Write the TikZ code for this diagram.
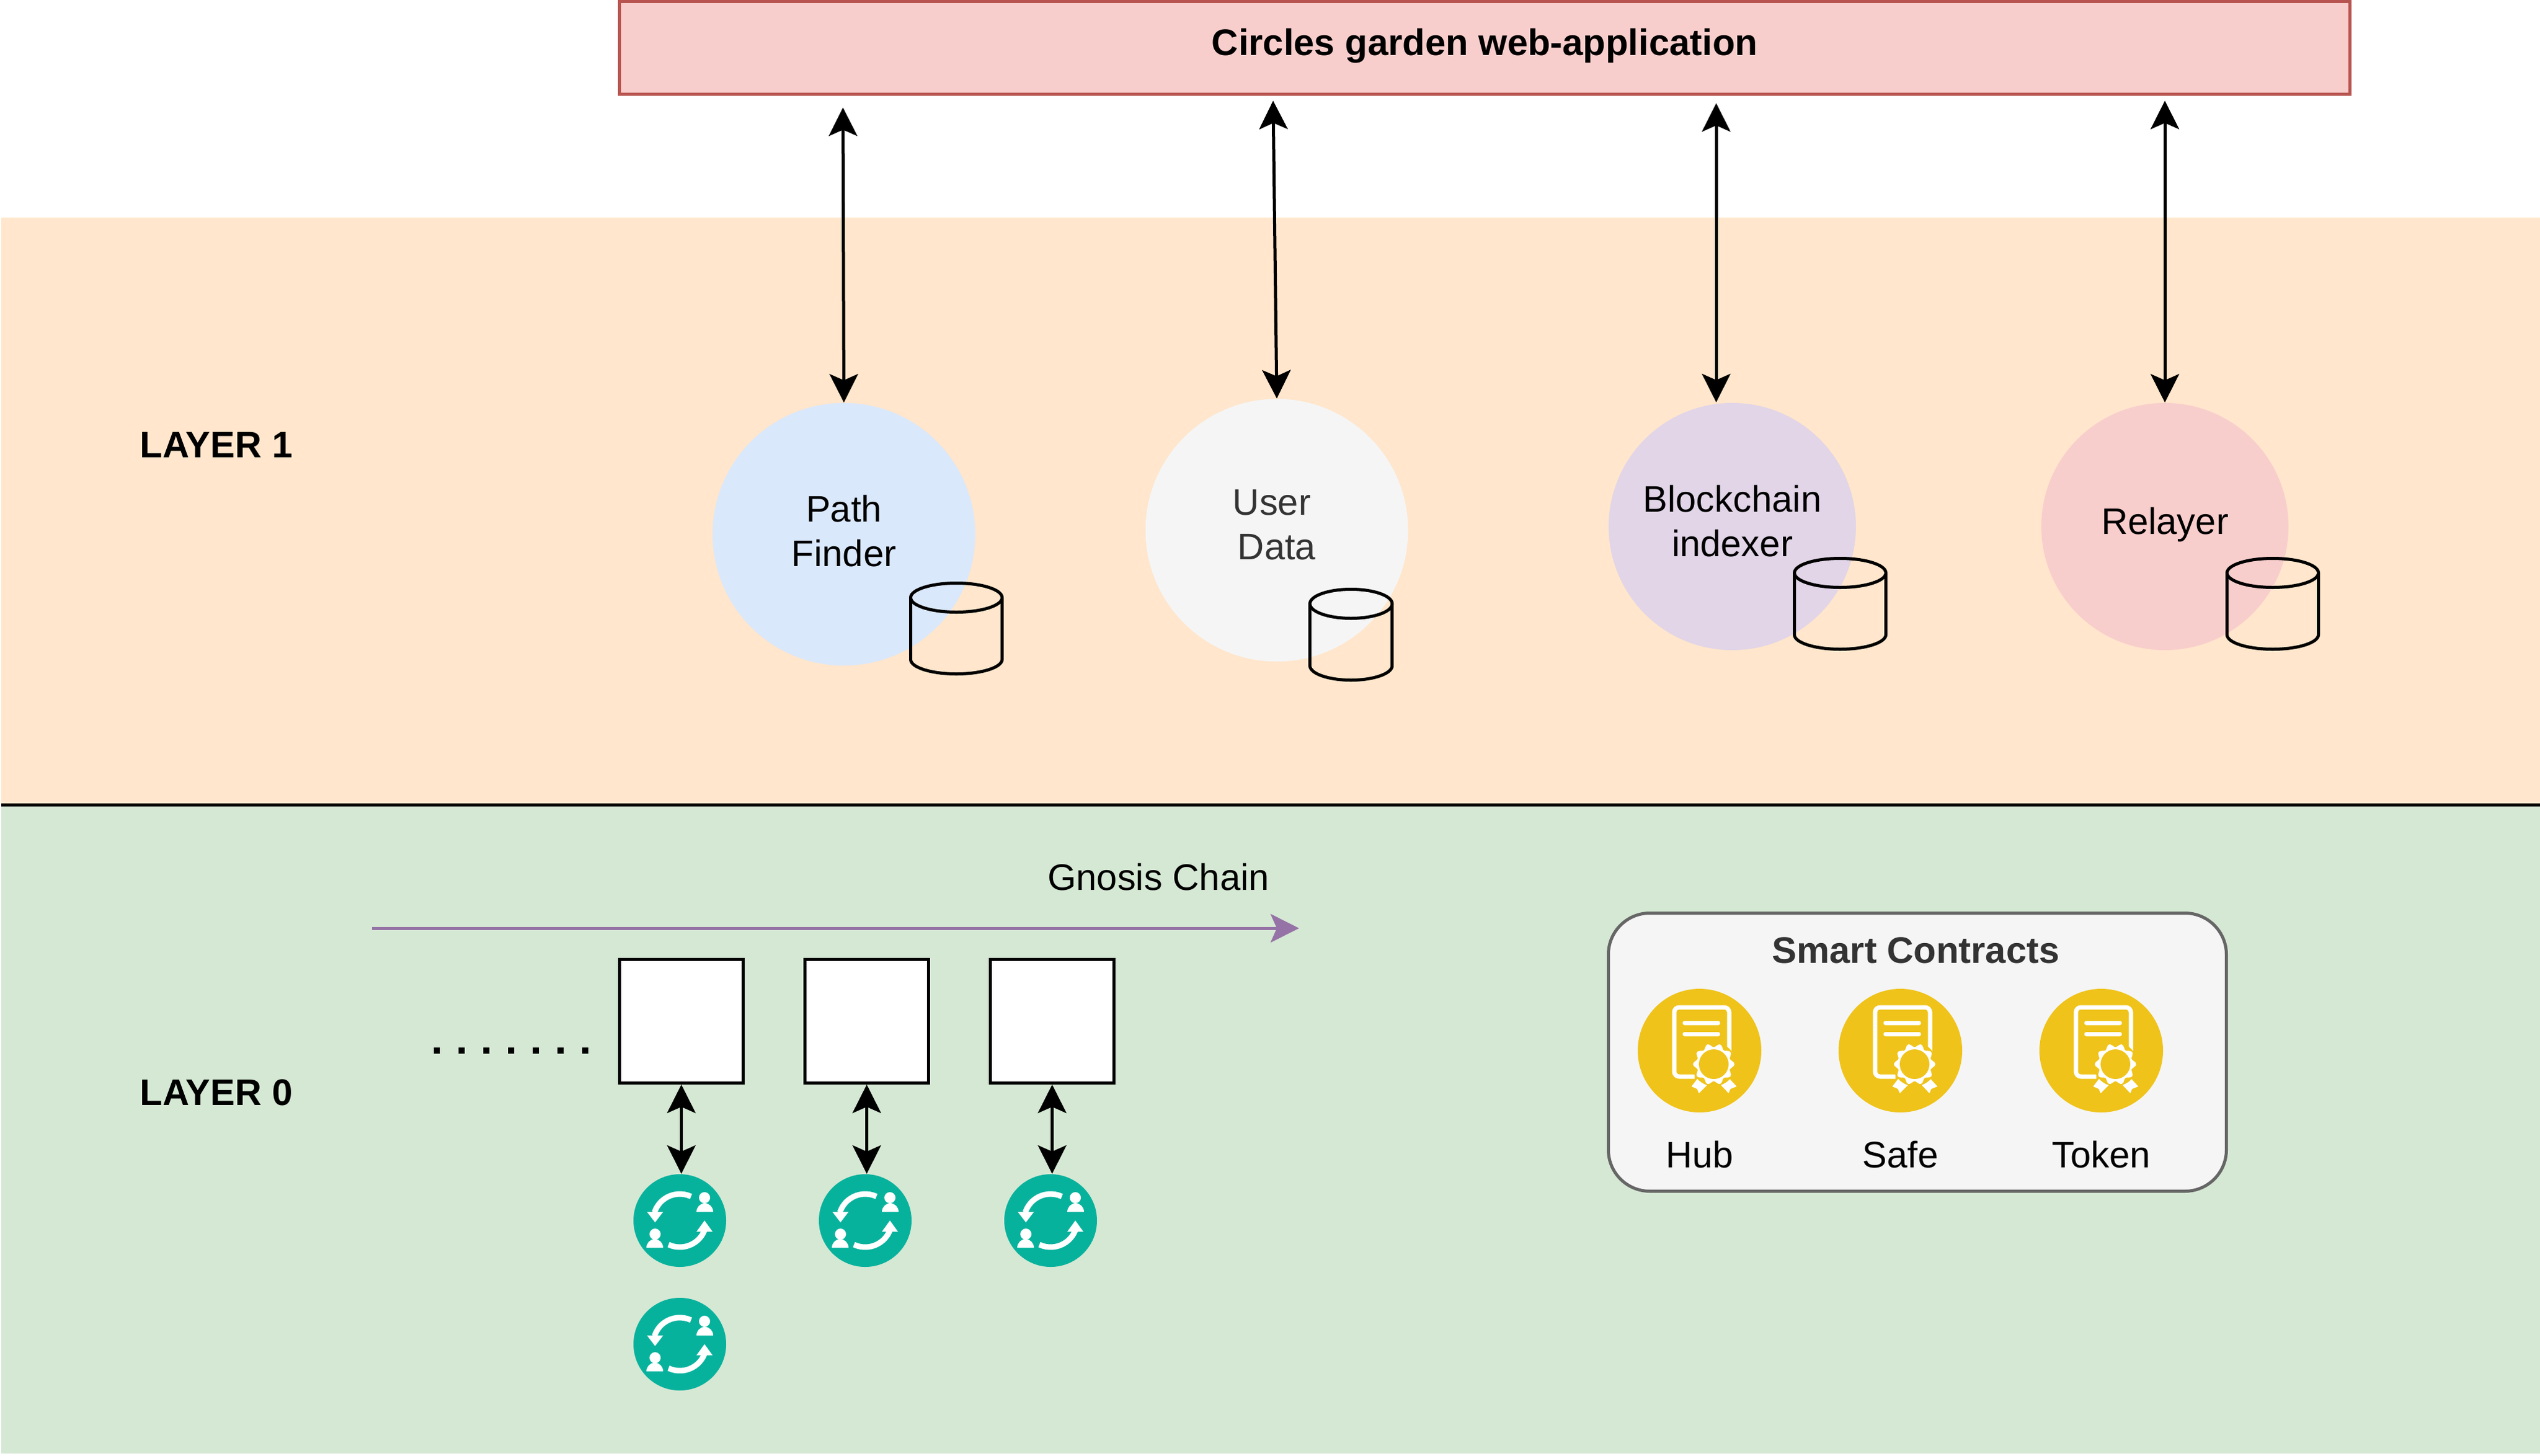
\documentclass[tikz,border=0pt]{standalone}
\usepackage{fontspec}
\setmainfont{Liberation Sans}
\usetikzlibrary{arrows.meta}

\definecolor{bandorange}{HTML}{FFE6CC}
\definecolor{bandgreen}{HTML}{D5E8D4}
\definecolor{appred}{HTML}{F8CECC}
\definecolor{appline}{HTML}{B85450}
\definecolor{pathblue}{HTML}{DAE8FC}
\definecolor{usergrey}{HTML}{F5F5F5}
\definecolor{indexlilac}{HTML}{E1D5E7}
\definecolor{chainpurple}{HTML}{9673A6}
\definecolor{boxline}{HTML}{666666}
\definecolor{greytext}{HTML}{333333}
\definecolor{valteal}{HTML}{07B29D}
\definecolor{certgold}{HTML}{EFC31A}

\tikzset{
  every node/.style={font=\fontsize{17}{20.5}\selectfont},
  lbl/.style={anchor=base, align=center, inner sep=0pt},
  blbl/.style={lbl, font=\fontsize{17}{20.5}\selectfont\bfseries},
  service/.style={circle, inner sep=0pt, minimum size=#1, align=center},
  block/.style={draw, fill=white, line width=0.05cm, minimum size=2cm, inner sep=0pt},
  round/.style={circle, inner sep=0pt, minimum size=#1},
  dblarrow/.style={line width=0.05cm, {Stealth[length=0.46cm,width=0.46cm,inset=0.1cm]}-{Stealth[length=0.46cm,width=0.46cm,inset=0.1cm]}},
  chainarrow/.style={draw=chainpurple, line width=0.05cm, -{Stealth[length=0.46cm,width=0.46cm,inset=0.1cm]}},
  % database drum, origin is the top left corner
  dbcyl/.pic={
    \draw[line width=0.05cm] (0,-0.235) arc[start angle=180, end angle=0, x radius=0.74, y radius=0.235]
      -- (1.48,-1.235) arc[start angle=0, end angle=-180, x radius=0.74, y radius=0.235] -- cycle;
    \draw[line width=0.05cm] (0,-0.235) arc[start angle=180, end angle=360, x radius=0.74, y radius=0.235];
  },
  % validators swapping seats
  swapicon/.pic={
    \draw[white, line width=0.09cm] (65:0.43) arc[start angle=65, end angle=162, radius=0.43];
    \fill[white] (-0.53,0.14) -- (-0.27,0.14) -- (-0.40,-0.03) -- cycle;
    \draw[white, line width=0.09cm] (245:0.43) arc[start angle=245, end angle=340, radius=0.43];
    \fill[white] (0.27,-0.18) -- (0.53,-0.18) -- (0.40,0) -- cycle;
    \fill[white] (0.40,0.37) circle (0.09);
    \fill[white] (0.27,0.14) arc[start angle=180, end angle=0, x radius=0.135, y radius=0.14] -- cycle;
    \fill[white] (-0.40,-0.22) circle (0.09);
    \fill[white] (-0.54,-0.44) arc[start angle=180, end angle=0, x radius=0.135, y radius=0.14] -- cycle;
  },
  % contract with a seal
  certicon/.pic={
    \draw[white, line width=0.07cm, rounded corners=0.08cm] (0.48,-0.07) -- (0.48,0.70) -- (-0.41,0.70) -- (-0.41,-0.42) -- (-0.08,-0.42);
    \draw[white, line width=0.07cm, line cap=round] (-0.24,0.45) -- (0.30,0.45);
    \draw[white, line width=0.07cm, line cap=round] (-0.24,0.27) -- (0.30,0.27);
    \fill[white] (-0.13,-0.58) -- (-0.03,-0.45) -- (0.15,-0.53) -- (-0.01,-0.69) -- (-0.04,-0.62) -- cycle;
    \fill[white] (0.60,-0.58) -- (0.48,-0.45) -- (0.32,-0.53) -- (0.47,-0.69) -- (0.50,-0.62) -- cycle;
    \fill[certgold] (0.23,-0.22) circle (0.355);
    \fill[white] plot[domain=0:360, samples=81] ({0.23+(0.305+0.03*cos(10*\x))*cos(\x)},{-0.22+(0.305+0.03*cos(10*\x))*sin(\x)}) -- cycle;
    \fill[certgold] (0.23,-0.22) circle (0.24);
  }
}

\begin{document}
\begin{tikzpicture}
\useasboundingbox (0,0) rectangle (41.1,-23.55);

% The two layers
\fill[bandorange] (0.02,-3.52) rectangle (41.1,-13.02);
\fill[bandgreen] (0.02,-13.02) rectangle (41.1,-23.52);
\draw[line width=0.05cm] (0.02,-13.02) -- (41.1,-13.02);
\node[blbl] (layerone) at (3.50,-7.40) {LAYER 1};
\node[blbl] (layerzero) at (3.50,-17.88) {LAYER 0};

% Web application
\node[draw=appline, fill=appred, line width=0.05cm, minimum width=28cm, minimum height=1.5cm, inner sep=0pt, text depth=0.19cm,
      font=\fontsize{17}{20.5}\selectfont\bfseries] (app) at (24.025,-0.775) {Circles garden web-application};

% Layer 1 services
\node[service=4.25cm, fill=pathblue, text depth=0.12cm] (pathfinder) at (13.655,-8.645) {Path\\Finder};
\node[service=4.25cm, fill=usergrey, text=greytext, text depth=0.18cm] (userdata) at (20.66,-8.58) {User\kern0.16cm\\Data};
\node[service=4cm, fill=indexlilac, text depth=0.19cm] (indexer) at (28.03,-8.52) {Blockchain\\indexer};
\node[service=4cm, fill=appred, text depth=0.19cm] (relayer) at (35.03,-8.52) {Relayer};

\pic at (14.735,-9.435) {dbcyl};
\pic[xscale=0.9] at (21.195,-9.535) {dbcyl};
\pic at (29.035,-9.035) {dbcyl};
\pic at (36.035,-9.035) {dbcyl};

\coordinate (pathup) at (13.64,-1.74);
\coordinate (userup) at (20.60,-1.63);
\coordinate (indexup) at (27.77,-1.67);
\coordinate (indexdown) at (27.77,-6.51);
\coordinate (relayup) at (35.03,-1.63);
\draw[dblarrow] (pathup) -- (pathfinder.north);
\draw[dblarrow] (userup) -- (userdata.north);
\draw[dblarrow] (indexup) -- (indexdown);
\draw[dblarrow] (relayup) -- (relayer.north);

% Chain of blocks
\node[lbl] (chainlbl) at (18.745,-14.40) {Gnosis Chain};
\coordinate (chainstart) at (6.02,-15.02);
\coordinate (chainend) at (21.02,-15.02);
\draw[chainarrow] (chainstart) -- (chainend);

\coordinate (dotstart) at (7.02,-17.0);
\coordinate (dotend) at (9.52,-17.0);
\draw[line width=0.1cm, dash pattern=on 0.1cm off 0.3cm] (dotstart) -- (dotend);

\node[block] (blockone) at (11.025,-16.525) {};
\node[block] (blocktwo) at (14.025,-16.525) {};
\node[block] (blockthree) at (17.025,-16.525) {};

% Validators
\node[round=1.5cm, fill=valteal] (valone) at (11,-19.75) {};
\node[round=1.5cm, fill=valteal] (valtwo) at (14,-19.75) {};
\node[round=1.5cm, fill=valteal] (valthree) at (17,-19.75) {};
\node[round=1.5cm, fill=valteal] (valfour) at (11,-21.75) {};
\pic at (valone) {swapicon};
\pic at (valtwo) {swapicon};
\pic at (valthree) {swapicon};
\pic at (valfour) {swapicon};

\draw[dblarrow] (blockone.south) -- (blockone.south |- valone.north);
\draw[dblarrow] (blocktwo.south) -- (blocktwo.south |- valtwo.north);
\draw[dblarrow] (blockthree.south) -- (blockthree.south |- valthree.north);

% Smart contracts
\node[draw=boxline, fill=usergrey, line width=0.05cm, rounded corners=0.67cm, minimum width=10cm, minimum height=4.5cm, inner sep=0pt] (contracts) at (31.025,-17.025) {};
\node[blbl, text=greytext] (contractlbl) at (31.0,-15.58) {Smart Contracts};

\node[round=2cm, fill=certgold] (hub) at (27.5,-17) {};
\node[round=2cm, fill=certgold] (safe) at (30.75,-17) {};
\node[round=2cm, fill=certgold] (token) at (34,-17) {};
\pic at (hub) {certicon};
\pic at (safe) {certicon};
\pic at (token) {certicon};

\node[lbl] (hublbl) at (27.5,-18.89) {Hub};
\node[lbl] (safelbl) at (30.75,-18.89) {Safe};
\node[lbl] (tokenlbl) at (34,-18.89) {Token};
\end{tikzpicture}
\end{document}
